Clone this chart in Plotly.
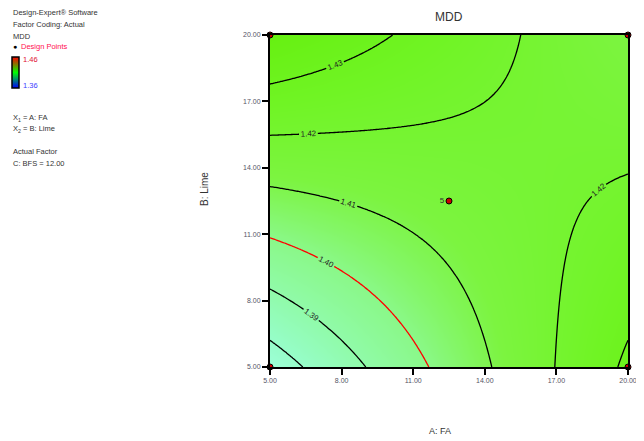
import numpy as np
import plotly.graph_objects as go

# Response-surface model for MDD (actual units)
model_terms = ["const", "A", "B", "AB"]
model_coefs = [1.32485, 0.0056715, 0.0062015, -0.0003767]

a_ticks = [5, 8, 11, 14, 17, 20]
b_ticks = [5, 8, 11, 14, 17, 20]
black_levels_low = [1.38, 1.39]
red_level = [1.40]
black_levels_high = [1.41, 1.43]

corner_a = [5, 20, 5, 20]
corner_b = [5, 5, 20, 20]
center_a = [12.5]
center_b = [12.5]
center_reps = ["5"]

legend_lines = ["Design-Expert® Software", "Factor Coding: Actual", "MDD"]
factor_lines = ["X<sub>1</sub> = A: FA", "X<sub>2</sub> = B: Lime"]
actual_lines = ["Actual Factor", "C: BFS = 12.00"]
scale_max, scale_min = "1.46", "1.36"

W, H = 644, 441
OFF = 8  # page body margin
A = np.linspace(5, 20, 151)
B = np.linspace(5, 20, 151)
AA, BB = np.meshgrid(A, B)
c0, cA, cB, cAB = model_coefs
Z = c0 + cA * AA + cB * BB + cAB * AA * BB

fill_scale = [
    [0.0, "#a4ffe4"],
    [0.15, "#96fdc8"],
    [0.43, "#8af888"],
    [0.6, "#7cf440"],
    [0.8, "#70f424"],
    [1.0, "#66f010"],
]

fig = go.Figure()
fig.add_trace(go.Heatmap(x=A, y=B, z=Z, colorscale=fill_scale, zmin=1.37, zmax=1.44,
                         showscale=False, hoverinfo="skip", zsmooth="best"))

def add_levels(levels, color):
    fig.add_trace(go.Contour(
        x=A, y=B, z=Z, showscale=False,
        contours=dict(coloring="none", start=levels[0], end=levels[-1], size=0.01,
                      showlabels=True, labelfont=dict(size=8, color="#222"),
                      labelformat=".2f"),
        line=dict(color=color, width=1.3), hoverinfo="skip"))

add_levels(black_levels_low, "black")
add_levels(red_level, "red")
add_levels(black_levels_high, "black")

pt_marker = dict(size=6, color="#cc0000", line=dict(color="black", width=1))
fig.add_trace(go.Scatter(
    x=corner_a, y=corner_b, mode="markers", marker=pt_marker,
    cliponaxis=False, hoverinfo="skip", showlegend=False))
fig.add_trace(go.Scatter(
    x=center_a, y=center_b, mode="markers+text", text=center_reps, marker=pt_marker,
    textposition="middle left", textfont=dict(size=8, color="#333"),
    cliponaxis=False, hoverinfo="skip", showlegend=False))

# legend colour bar (Design-Expert style)
fig.add_trace(go.Scatter(
    x=[None], y=[None], mode="markers", showlegend=False, hoverinfo="skip",
    marker=dict(color=[1.36, 1.46], cmin=1.36, cmax=1.46,
                colorscale=[[0, "#0000ff"], [0.5, "#00ff00"], [1, "#ff0000"]],
                showscale=True,
                colorbar=dict(x=(12 - OFF) / W, xanchor="left", y=1 - (57 - OFF) / H,
                              yanchor="top",
                              len=31, lenmode="pixels", thickness=7,
                              thicknessmode="pixels", showticklabels=False,
                              xpad=0, ypad=0,
                              ticks="", outlinecolor="black", outlinewidth=1.5))))

x0, x1 = (270 - OFF) / W, (628 - OFF) / W
y0, y1 = 1 - (367 - OFF) / H, 1 - (35 - OFF) / H
axis_common = dict(showline=True, linecolor="black", linewidth=2, mirror=True,
                   ticks="outside", ticklen=6, tickwidth=2, tickcolor="black",
                   tickformat=".2f", tickfont=dict(size=7, color="#556"),
                   showgrid=False, zeroline=False, range=[5, 20], automargin=False)
fig.update_layout(
    width=W, height=H, margin=dict(l=0, r=0, t=0, b=0, autoexpand=False),
    paper_bgcolor="white", plot_bgcolor="white",
    font=dict(family="Liberation Sans, Arial", color="#333"),
    xaxis=dict(domain=[x0, x1], tickvals=a_ticks, **axis_common),
    yaxis=dict(domain=[y0, y1], tickvals=b_ticks, **axis_common),
    showlegend=False,
)

ann = []
def txt(s, px, py, color="#333", size=7.5, anchor="left", angle=0):
    ann.append(dict(text=s, x=(px - OFF) / W, y=1 - (py - OFF) / H,
                    xref="paper", yref="paper",
                    showarrow=False, xanchor=anchor, yanchor="middle",
                    font=dict(size=size, color=color), textangle=angle))

for i, s in enumerate(legend_lines):
    txt(s, 11, 13 + i * 11.5)
txt("●", 11, 47, color="black", size=7)
txt("Design Points", 19, 47, color="#ff1050")
txt(scale_max, 21, 59, color="#e01030")
txt(scale_min, 21, 86, color="#4040ff")
for i, s in enumerate(factor_lines):
    txt(s, 11, 118 + i * 11)
for i, s in enumerate(actual_lines):
    txt(s, 11, 152 + i * 11)
txt("MDD", 449, 17, size=12, anchor="center")
txt("A: FA", 440, 431, size=9, anchor="center")
txt("B: Lime", 205, 189, size=10, anchor="center", angle=-90)
fig.update_layout(annotations=ann)

fig.write_html("out.html")
